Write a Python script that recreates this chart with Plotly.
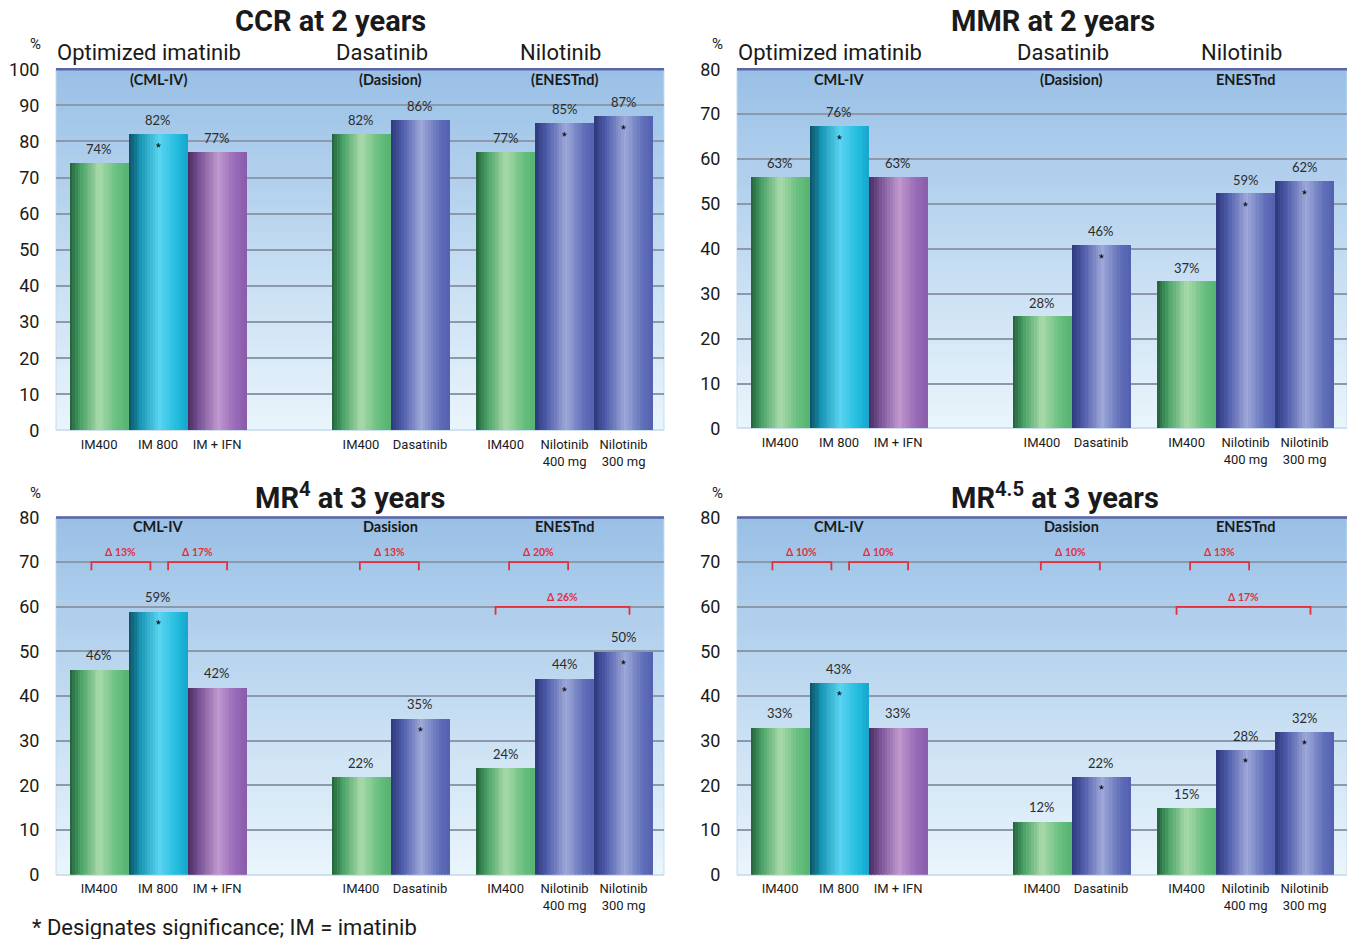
import plotly.graph_objects as go

# ---------------- data ----------------
categories = ["IM400", "IM 800", "IM + IFN", "IM400", "Dasatinib", "IM400",
              "Nilotinib<br>400 mg", "Nilotinib<br>300 mg"]
bar_kinds = ["green", "cyan", "purple", "green", "blue", "green", "blue", "blue"]

group_titles = ["Optimized imatinib", "Dasatinib", "Nilotinib"]

ccr_values = [74, 82, 77, 82, 86, 77, 85, 87]
ccr_labels = ["74%", "82%", "77%", "82%", "86%", "77%", "85%", "87%"]
ccr_sig = [0, 1, 0, 0, 0, 0, 1, 1]
ccr_trials = ["(CML-IV)", "(Dasision)", "(ENESTnd)"]

# bar heights as drawn in the picture (labels give the reported %)
mmr_values = [55.9, 67.3, 55.9, 24.9, 40.8, 32.7, 52.3, 55.0]
mmr_labels = ["63%", "76%", "63%", "28%", "46%", "37%", "59%", "62%"]
mmr_sig = [0, 1, 0, 0, 1, 0, 1, 1]
mmr_trials = ["CML-IV", "(Dasision)", "ENESTnd"]

mr4_values = [46, 59, 42, 22, 35, 24, 44, 50]
mr4_labels = ["46%", "59%", "42%", "22%", "35%", "24%", "44%", "50%"]
mr4_sig = [0, 1, 0, 0, 1, 0, 1, 1]
mr4_deltas = ["Δ 13%", "Δ 17%", "Δ 13%", "Δ 20%", "Δ 26%"]

mr45_values = [33, 43, 33, 12, 22, 15, 28, 32]
mr45_labels = ["33%", "43%", "33%", "12%", "22%", "15%", "28%", "32%"]
mr45_sig = [0, 1, 0, 0, 1, 0, 1, 1]
mr45_deltas = ["Δ 10%", "Δ 10%", "Δ 10%", "Δ 13%", "Δ 17%"]

mr_trials = ["CML-IV", "Dasision", "ENESTnd"]

# ---------------- layout constants ----------------
W, H = 1347, 939
positions = [0.73, 1.73, 2.73, 5.17, 6.17, 7.62, 8.62, 9.62]
trial_x = [1.73, 5.67, 8.62]
group_x = [1.58, 5.53, 8.55]
bracket_spans = [(0.6, 1.6, 70), (1.9, 2.9, 70), (5.15, 6.15, 70), (7.68, 8.68, 70), (7.45, 9.72, 60)]

ramps = {
    "green": [(0, (35, 95, 58)), (0.18, (70, 160, 100)), (0.5, (170, 218, 170)), (0.8, (105, 192, 128)), (1, (85, 178, 112))],
    "cyan": [(0, (12, 78, 98)), (0.2, (25, 150, 180)), (0.52, (90, 212, 240)), (0.82, (35, 188, 222)), (1, (22, 165, 205))],
    "purple": [(0, (72, 42, 92)), (0.2, (122, 84, 152)), (0.52, (192, 152, 206)), (0.82, (152, 104, 182)), (1, (136, 92, 170))],
    "blue": [(0, (45, 55, 122)), (0.2, (78, 92, 170)), (0.52, (158, 168, 216)), (0.82, (98, 112, 186)), (1, (82, 96, 176))],
}


def ramp_color(kind, t):
    stops = ramps[kind]
    for (p0, c0), (p1, c1) in zip(stops[:-1], stops[1:]):
        if p0 <= t <= p1:
            f = (t - p0) / (p1 - p0)
            c = [round(a + (b - a) * f) for a, b in zip(c0, c1)]
            return f"rgb({c[0]},{c[1]},{c[2]})"
    c = stops[-1][1]
    return f"rgb({c[0]},{c[1]},{c[2]})"


def px_x(p):
    return p / W


VS = 0.977  # vertical calibration of the capture


def px_y(p):
    return 1 - (470 + (p - 470) / VS) / H


panels = [
    dict(s="", xdom=(56, 664), ydom=(69, 430), ymax=100, values=ccr_values, labels=ccr_labels, sig=ccr_sig,
         title="CCR at 2 years", tx=330, ty=21, trials=ccr_trials, groups=True, deltas=None, pct=(35, 44), trial_dy=10),
    dict(s="2", xdom=(737, 1347), ydom=(69, 428), ymax=80, values=mmr_values, labels=mmr_labels, sig=mmr_sig,
         title="MMR at 2 years", tx=1053, ty=21, trials=mmr_trials, groups=True, deltas=None, pct=(717, 44), trial_dy=10),
    dict(s="3", xdom=(56, 664), ydom=(517, 874), ymax=80, values=mr4_values, labels=mr4_labels, sig=mr4_sig,
         title="MR<sup>4</sup> at 3 years", tx=350, ty=495, trials=mr_trials, groups=False, deltas=mr4_deltas, pct=(35, 492), trial_dy=9),
    dict(s="4", xdom=(737, 1347), ydom=(517, 874), ymax=80, values=mr45_values, labels=mr45_labels, sig=mr45_sig,
         title="MR<sup>4.5</sup> at 3 years", tx=1055, ty=495, trials=mr_trials, groups=False, deltas=mr45_deltas, pct=(717, 492), trial_dy=9),
]

NARROW = "Roboto, Liberation Sans, sans-serif"
CAL = "Lato, Open Sans, sans-serif"

fig = go.Figure()
shapes = []
annotations = []
layout_axes = {}
N = 22
top_rgb = (153, 192, 230)
bot_rgb = (234, 245, 252)
NB = 60

for P in panels:
    s = P["s"]
    xa, ya = "x" + s, "y" + s
    xw = (P["xdom"][1] - P["xdom"][0]) / 59.0
    # bars as vertical gradient strips
    for k in range(N):
        tc = (k + 0.5) / N
        fig.add_trace(go.Bar(
            x=positions, y=P["values"],
            width=1.0 / N + (0.012 if k < N - 1 else 0), offset=-0.5 + k / N,
            marker=dict(color=[ramp_color(c, tc) for c in bar_kinds], line=dict(width=0)),
            xaxis=xa, yaxis=ya, showlegend=False, hoverinfo="skip"))
    # axes
    layout_axes["xaxis" + s] = dict(
        domain=[px_x(P["xdom"][0]), px_x(P["xdom"][1])], range=[0, xw], anchor=ya,
        tickmode="array", tickvals=positions, ticktext=categories,
        tickfont=dict(family=NARROW, size=13, color="#1a1a1a"),
        ticks="outside", ticklen=2, tickcolor="rgba(0,0,0,0)",
        showgrid=False, zeroline=False, showline=False, fixedrange=True)
    layout_axes["yaxis" + s] = dict(
        domain=[px_y(P["ydom"][1]), px_y(P["ydom"][0])], range=[0, P["ymax"]], anchor=xa,
        dtick=10, tick0=0, showgrid=True, gridcolor="#8c99ab", gridwidth=1.5,
        zeroline=True, zerolinecolor="#cfe1ef", zerolinewidth=1.5,
        tickfont=dict(family=NARROW, size=18, color="#1a1a1a"),
        ticks="outside", ticklen=12, tickcolor="rgba(0,0,0,0)", showline=False, fixedrange=True)
    # background gradient bands
    xd = "x domain" if s == "" else f"x{s} domain"
    yd = "y domain" if s == "" else f"y{s} domain"
    for b in range(NB):
        f = (b + 0.5) / NB
        c = [round(bot_rgb[i] + (top_rgb[i] - bot_rgb[i]) * f) for i in range(3)]
        shapes.append(dict(type="rect", xref=xd, yref=yd, x0=0, x1=1, y0=b / NB, y1=(b + 1) / NB + 0.002,
                           fillcolor=f"rgb({c[0]},{c[1]},{c[2]})", line=dict(width=0), layer="below"))
    # top border
    shapes.append(dict(type="line", xref=xd, yref=yd, x0=0, x1=1, y0=1, y1=1,
                       line=dict(color="#5b64a6", width=2.5), layer="above"))
    # side edges
    for xe in (0, 1):
        shapes.append(dict(type="line", xref=xd, yref=yd, x0=xe, x1=xe, y0=0, y1=1,
                           line=dict(color="#c6dbee", width=1), layer="below"))
    # value labels and asterisks
    for i, pos in enumerate(positions):
        annotations.append(dict(xref=xa, yref=ya, x=pos, y=P["values"][i], text=P["labels"][i],
                                showarrow=False, yshift=14, font=dict(family=CAL, size=13, color="#2b2b2b")))
        if P["sig"][i]:
            annotations.append(dict(xref=xa, yref=ya, x=pos, y=P["values"][i], text="*",
                                    showarrow=False, yshift=-13, font=dict(family=NARROW, size=11, color="#000")))
    # trial labels inside plot
    for tx_, t in zip(trial_x, P["trials"]):
        annotations.append(dict(xref=xa, yref=yd, x=tx_, y=1, text=f"<b>{t}</b>", showarrow=False,
                                yanchor="middle", yshift=-P["trial_dy"], font=dict(family=CAL, size=14.5, color="#1a1a1a")))
    # group headers above
    if P["groups"]:
        for gx, g in zip(group_x, group_titles):
            annotations.append(dict(xref=xa, yref="paper", x=gx, y=px_y(52), text=g, showarrow=False,
                                    yanchor="middle", font=dict(family=NARROW, size=22, color="#1a1a1a")))
    # brackets
    if P["deltas"]:
        for (x0, x1, yv), d in zip(bracket_spans, P["deltas"]):
            leg = 1.8
            shapes.append(dict(type="path", xref=xa, yref=ya,
                               path=f"M {x0} {yv - leg} L {x0} {yv} L {x1} {yv} L {x1} {yv - leg}",
                               line=dict(color="#e0303c", width=1.8), layer="above"))
            annotations.append(dict(xref=xa, yref=ya, x=(x0 + x1) / 2, y=yv, text=f"<b>{d}</b>", showarrow=False,
                                    yshift=10, font=dict(family=CAL, size=10.5, color="#e0303c")))
    # title
    annotations.append(dict(xref="paper", yref="paper", x=px_x(P["tx"]), y=px_y(P["ty"]), text=f"<b>{P['title']}</b>",
                            showarrow=False, xanchor="center", yanchor="middle",
                            font=dict(family=NARROW, size=29, color="#1a1a1a")))
    # % sign
    annotations.append(dict(xref="paper", yref="paper", x=px_x(P["pct"][0]), y=px_y(P["pct"][1]), text="%",
                            showarrow=False, xanchor="center", yanchor="middle",
                            font=dict(family=NARROW, size=15, color="#1a1a1a")))

annotations.append(dict(xref="paper", yref="paper", x=px_x(30), y=px_y(927), text="* Designates significance; IM = imatinib",
                        showarrow=False, xanchor="left", yanchor="middle",
                        font=dict(family=NARROW, size=22, color="#1a1a1a")))

fig.update_layout(width=W, height=H, margin=dict(l=0, r=0, t=0, b=0), autosize=False,
                  paper_bgcolor="white", plot_bgcolor="rgba(0,0,0,0)",
                  barmode="overlay", bargap=0, showlegend=False,
                  shapes=shapes, annotations=annotations, **layout_axes)

fig.write_html("out.html", config={"displayModeBar": False},
               post_script="document.body.style.margin='0';document.body.style.overflow='hidden';"
                           "document.documentElement.style.overflow='hidden';")
